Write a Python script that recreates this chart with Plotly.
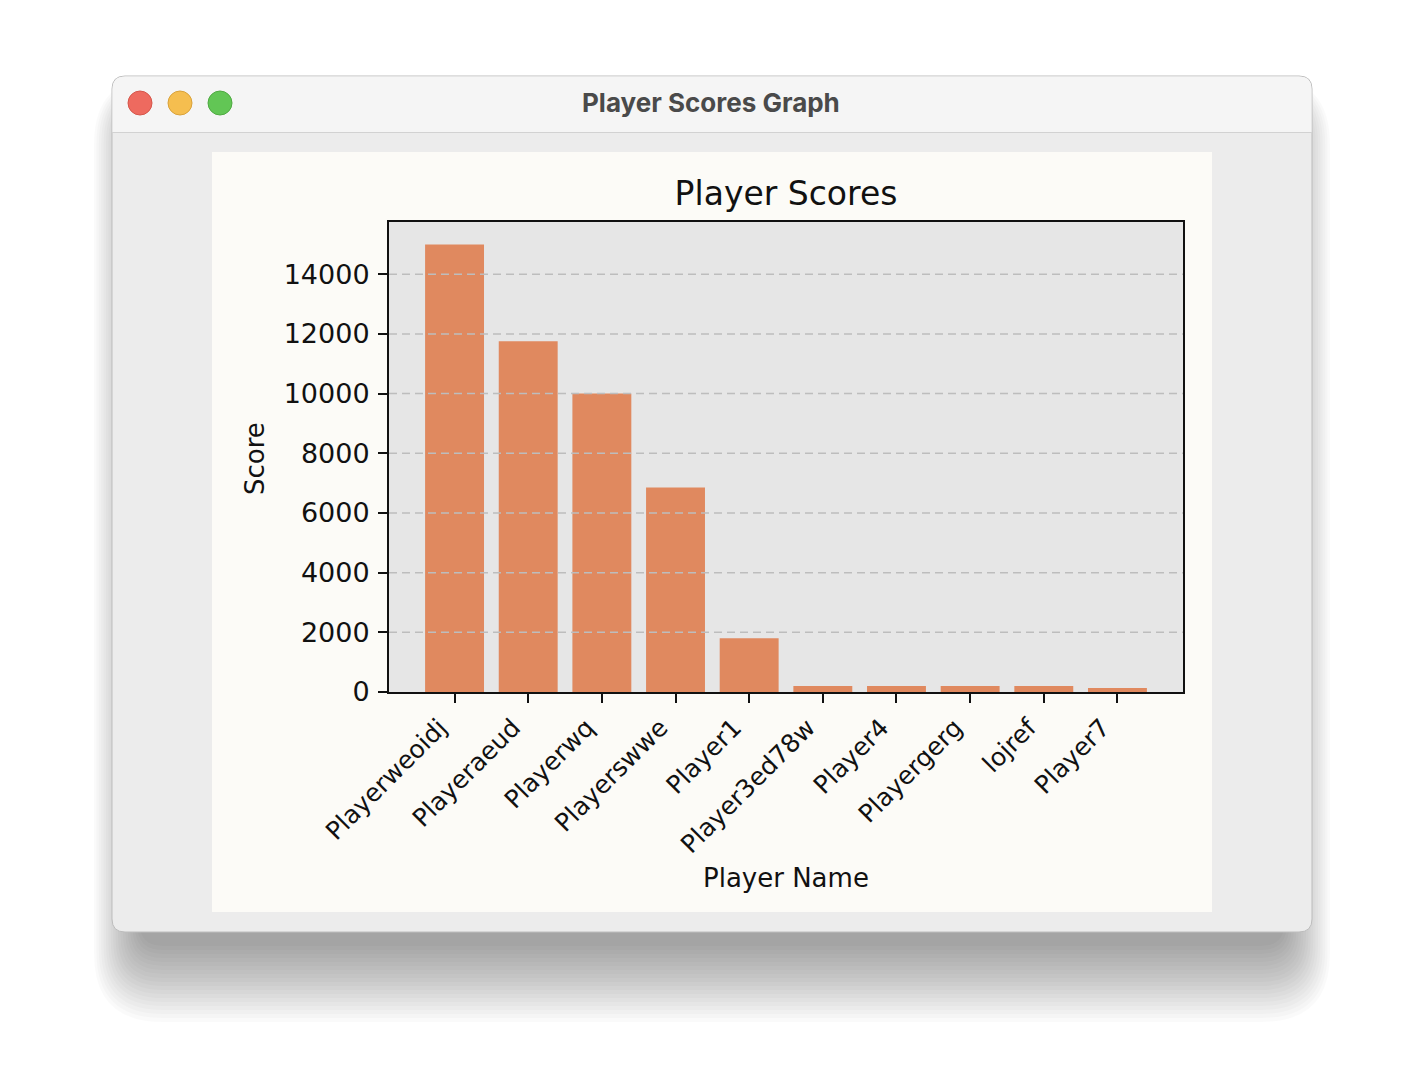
import plotly.graph_objects as go

# ---- data ----
players = ["Playerweoidj", "Playeraeud", "Playerwq", "Playerswwe", "Player1",
           "Player3ed78w", "Player4", "Playergerg", "lojref", "Player7"]
scores = [15000, 11750, 10000, 6850, 1800, 200, 200, 200, 200, 130]
y_ticks = [0, 2000, 4000, 6000, 8000, 10000, 12000, 14000]

# ---- geometry (pixels in the 1424x1080 page; page body has an 8px margin) ----
OFF = 8
W, H = 1424 - 2 * OFF, 1080 - 2 * OFF
PL, PR, PT, PB = 389, 1183, 222, 692


def xp(px):
    return (px - PL) / (PR - PL)


def yp(py):
    return (PB - py) / (PB - PT)


def rrect(x0, y0, x1, y1, r, top=True, bottom=True):
    rt = r if top else 0
    rb = r if bottom else 0
    p = f"M {xp(x0 + rt)} {yp(y0)} L {xp(x1 - rt)} {yp(y0)} "
    if rt:
        p += f"Q {xp(x1)} {yp(y0)} {xp(x1)} {yp(y0 + rt)} "
    p += f"L {xp(x1)} {yp(y1 - rb)} "
    if rb:
        p += f"Q {xp(x1)} {yp(y1)} {xp(x1 - rb)} {yp(y1)} "
    p += f"L {xp(x0 + rb)} {yp(y1)} "
    if rb:
        p += f"Q {xp(x0)} {yp(y1)} {xp(x0)} {yp(y1 - rb)} "
    p += f"L {xp(x0)} {yp(y0 + rt)} "
    if rt:
        p += f"Q {xp(x0)} {yp(y0)} {xp(x0 + rt)} {yp(y0)} "
    return p + "Z"


shapes = []
# soft window shadow (mostly below the window)
for i in range(20):
    g = 4 + i * 4
    shapes.append(dict(type="path", xref="paper", yref="paper",
                       path=rrect(112 + 30 - 0.6 * g, 76 + 40 - 0.5 * g,
                                  1312 - 30 + 0.6 * g, 932 + 10 + 1.0 * g, 20 + 0.6 * g),
                       fillcolor="rgba(0,0,0,0.02)", line=dict(width=0), layer="below"))
# window
shapes.append(dict(type="path", xref="paper", yref="paper",
                   path=rrect(112, 76, 1312, 932, 13),
                   fillcolor="#ECECEC", line=dict(color="#BDBDBD", width=1), layer="below"))
# title bar
shapes.append(dict(type="path", xref="paper", yref="paper",
                   path=rrect(112.5, 76.5, 1311.5, 132, 13, bottom=False),
                   fillcolor="#F5F5F5", line=dict(width=0), layer="below"))
shapes.append(dict(type="line", xref="paper", yref="paper",
                   x0=xp(112), x1=xp(1312), y0=yp(132.5), y1=yp(132.5),
                   line=dict(color="#D2D2D2", width=1), layer="below"))
# traffic lights
for cx, fill, edge in [(140, "#EE6A5F", "#D5564B"), (180, "#F5BE4F", "#D9A23A"),
                       (220, "#62C655", "#4FAA42")]:
    shapes.append(dict(type="circle", xref="paper", yref="paper",
                       x0=xp(cx - 12), x1=xp(cx + 12), y0=yp(103 + 12), y1=yp(103 - 12),
                       fillcolor=fill, line=dict(color=edge, width=1), layer="below"))
# figure canvas
shapes.append(dict(type="rect", xref="paper", yref="paper",
                   x0=xp(212), x1=xp(1212), y0=yp(912), y1=yp(152),
                   fillcolor="#FCFBF7", line=dict(width=0), layer="below"))
# axes background
shapes.append(dict(type="rect", xref="paper", yref="paper",
                   x0=0, x1=1, y0=0, y1=1,
                   fillcolor="#E6E6E6", line=dict(width=0), layer="below"))
# dashed grid drawn above bars
for v in y_ticks[1:]:
    shapes.append(dict(type="line", xref="paper", yref="y", x0=0, x1=1, y0=v, y1=v,
                       line=dict(color="#BDBDBD", width=1.5, dash="8px,5px"), layer="above"))

fig = go.Figure(go.Bar(x=players, y=scores, marker=dict(color="#E0895F", line=dict(width=0)),
                       width=0.8))

FONT = "DejaVu Sans"
fig.update_layout(
    width=W, height=H,
    margin=dict(l=PL - OFF, r=W - (PR - OFF), t=PT - OFF, b=H - (PB - OFF), pad=0),
    paper_bgcolor="#FFFFFF", plot_bgcolor="rgba(0,0,0,0)",
    showlegend=False, shapes=shapes,
    font=dict(family=FONT, color="#111111"),
    title=dict(text="Player Scores", font=dict(family=FONT, size=33, color="#111111"),
               x=0.5, xanchor="center", xref="paper",
               y=(H - (193 - OFF)) / H, yref="container", yanchor="middle"),
    annotations=[
        dict(text="Player Scores Graph", xref="paper", yref="paper", x=xp(711), y=yp(103),
             showarrow=False, font=dict(family="Inter", size=26, color="#4A4A4A", weight=700),
             xanchor="center", yanchor="middle"),
        dict(text="Player Name", xref="paper", yref="paper", x=0.5, y=yp(878),
             showarrow=False, font=dict(family=FONT, size=26, color="#111111"),
             xanchor="center", yanchor="middle"),
        dict(text="Score", xref="paper", yref="paper", x=xp(255), y=yp(459),
             showarrow=False, textangle=-90, font=dict(family=FONT, size=26, color="#111111"),
             xanchor="center", yanchor="middle"),
    ],
    bargap=0.2,
)
fig.update_xaxes(type="category", range=[-0.89, 9.89], showgrid=False, zeroline=False,
                 showline=True, linecolor="#111111", linewidth=2, mirror=True,
                 ticks="outside", ticklen=9, tickwidth=2, tickcolor="#111111",
                 tickangle=-45, tickfont=dict(family=FONT, size=25, color="#111111"),
                 ticklabelshift=-15,
                 automargin=False, fixedrange=True)
fig.update_yaxes(range=[0, 15750], tickvals=y_ticks, ticktext=[str(v) for v in y_ticks],
                 showgrid=False, zeroline=False,
                 showline=True, linecolor="#111111", linewidth=2, mirror=True,
                 ticks="outside", ticklen=9, tickwidth=2, tickcolor="#111111",
                 tickfont=dict(family=FONT, size=27, color="#111111"),
                 ticklabelstandoff=3, automargin=False, fixedrange=True)

fig.write_html("out.html")
